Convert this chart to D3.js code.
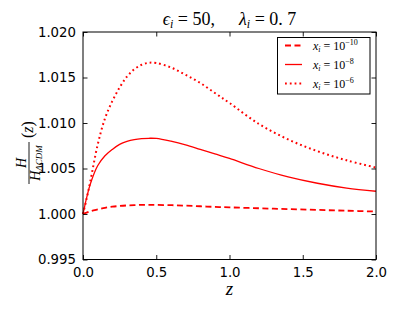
<!DOCTYPE html>
<html><head><meta charset="utf-8">
<script src="https://cdn.jsdelivr.net/npm/d3@7"></script>
<style>html,body{margin:0;padding:0;background:#fff;}svg{display:block;}</style>
</head><body>
<svg id="c" width="417" height="313"></svg>
<script>
const zVals = [0, 0.025, 0.05, 0.1, 0.15, 0.2, 0.25, 0.3, 0.35, 0.4, 0.45, 0.5, 0.6, 0.7, 0.8, 0.9, 1.0, 1.2, 1.4, 1.6, 1.8, 2.0];
const ratioX10 = [1.0000, 1.00015, 1.0003, 1.0005, 1.00068, 1.0008, 1.00088, 1.00094, 1.00098, 1.00100, 1.00101, 1.00100, 1.00097, 1.00092, 1.00085, 1.00078, 1.00073, 1.00063, 1.00054, 1.00045, 1.00036, 1.00027];
const ratioX8 = [1.0000, 1.0018, 1.0033, 1.0053, 1.0064, 1.0071, 1.00765, 1.00797, 1.00817, 1.00828, 1.00832, 1.0083, 1.0080, 1.0076, 1.0071, 1.0066, 1.0061, 1.0050, 1.00408, 1.00338, 1.00285, 1.0025];
const ratioX6 = [1.0000, 1.0017, 1.0036, 1.0076, 1.0105, 1.0124, 1.0139, 1.0151, 1.0159, 1.0164, 1.01662, 1.0166, 1.0161, 1.0153, 1.0144, 1.0133, 1.0122, 1.0099, 1.0082, 1.0069, 1.0059, 1.0051];
const xTicks = [0, 0.5, 1.0, 1.5, 2.0];
const yTicks = [0.995, 1.000, 1.005, 1.010, 1.015, 1.020];
const legendExps = ["-10", "-8", "-6"];

const svg = d3.select("#c");
const L = 83, R = 376, T = 32, B = 259.5;
const x = d3.scaleLinear().domain([0, 2]).range([L, R]);
const y = d3.scaleLinear().domain([0.995, 1.020]).range([B, T]);

const series = [
  {vals: ratioX10, dash: "6,3.5", w: 1.8},
  {vals: ratioX8, dash: null, w: 1.3},
  {vals: ratioX6, dash: "1.8,3", w: 2.0}
];
const line = d3.line().x(d => x(d[0])).y(d => y(d[1])).curve(d3.curveCatmullRom.alpha(0.5));
const plot = svg.append("g");
series.forEach(s => {
  plot.append("path")
    .datum(zVals.map((z, i) => [z, s.vals[i]]))
    .attr("d", line).attr("fill", "none").attr("stroke", "#ff0000")
    .attr("stroke-width", s.w).attr("stroke-dasharray", s.dash);
});

// axes with inward ticks on all four sides
const fontTick = "DejaVu Sans, sans-serif";
const axB = d3.axisBottom(x).tickValues(xTicks).tickFormat(d3.format(".1f")).tickSizeInner(-4.5).tickSizeOuter(0).tickPadding(8);
const axT = d3.axisTop(x).tickValues(xTicks).tickFormat("").tickSizeInner(-4.5).tickSizeOuter(0);
const axL = d3.axisLeft(y).tickValues(yTicks).tickFormat(d3.format(".3f")).tickSizeInner(-4.5).tickSizeOuter(0).tickPadding(7);
const axR = d3.axisRight(y).tickValues(yTicks).tickFormat("").tickSizeInner(-4.5).tickSizeOuter(0);
function style(g){ g.select(".domain").remove(); g.selectAll("line").attr("stroke","#000").attr("stroke-width",0.9); g.selectAll("text").attr("font-family",fontTick).attr("font-size","13.3px").attr("fill","#000"); }
svg.append("g").attr("transform",`translate(0,${B})`).call(axB).call(style);
svg.append("g").attr("transform",`translate(0,${T})`).call(axT).call(style);
svg.append("g").attr("transform",`translate(${L},0)`).call(axL).call(style);
svg.append("g").attr("transform",`translate(${R},0)`).call(axR).call(style);
svg.append("rect").attr("x",L).attr("y",T).attr("width",R-L).attr("height",B-T).attr("fill","none").attr("stroke","#000").attr("stroke-width",1);

const serif = "Liberation Serif, DejaVu Serif, serif";
// title
const title = svg.append("text").attr("x", (L+R)/2).attr("y", 25).attr("text-anchor","middle").attr("font-family",serif).attr("font-size","18px").attr("fill","#000");
title.append("tspan").attr("font-style","italic").text("ϵ");
title.append("tspan").attr("font-style","italic").attr("font-size","12px").attr("dy",3).text("i");
title.append("tspan").attr("dy",-3).text(" = 50,");
title.append("tspan").attr("dx",24).attr("font-style","italic").text("λ");
title.append("tspan").attr("font-style","italic").attr("font-size","12px").attr("dy",3).text("i");
title.append("tspan").attr("dy",-3).text(" = 0. 7");

// x label
svg.append("text").attr("x",(L+R)/2).attr("y",295).attr("text-anchor","middle").attr("font-family",serif).attr("font-style","italic").attr("font-size","19px").text("z");

// y label
const yl = svg.append("g").attr("transform","translate(29,163) rotate(-90)").attr("font-family",serif).attr("fill","#000");
yl.append("text").attr("x",0).attr("y",-3.5).attr("text-anchor","middle").attr("font-style","italic").attr("font-size","14px").text("H");
yl.append("line").attr("x1",-21).attr("x2",21).attr("y1",0).attr("y2",0).attr("stroke","#000").attr("stroke-width",0.9);
const den = yl.append("text").attr("x",0).attr("y",11).attr("text-anchor","middle").attr("font-size","14px");
den.append("tspan").attr("font-style","italic").text("H");
den.append("tspan").attr("font-style","italic").attr("font-size","9px").attr("dy",2).text("ΛCDM");
yl.append("text").attr("x",25).attr("y",4).attr("font-size","16px").html('(<tspan font-style="italic">z</tspan>)');

// legend
const lg = svg.append("g");
lg.append("rect").attr("x",277.5).attr("y",37.5).attr("width",92.5).attr("height",56.5).attr("fill","#fff").attr("stroke","#000").attr("stroke-width",1);
series.forEach((s, i) => {
  const yy = 45.5 + i*19;
  lg.append("line").attr("x1",285).attr("x2",302).attr("y1",yy).attr("y2",yy).attr("stroke","#ff0000").attr("stroke-width",s.w).attr("stroke-dasharray",s.dash);
  const t = lg.append("text").attr("x",313).attr("y",yy+4).attr("font-family",serif).attr("font-size","12px");
  t.append("tspan").attr("font-style","italic").text("x");
  t.append("tspan").attr("font-style","italic").attr("font-size","8px").attr("dy",2).text("i");
  t.append("tspan").attr("dy",-2).text(" = 10");
  t.append("tspan").attr("font-size","8px").attr("dy",-5).text(legendExps[i].replace("-","−"));
});
</script>
</body></html>
